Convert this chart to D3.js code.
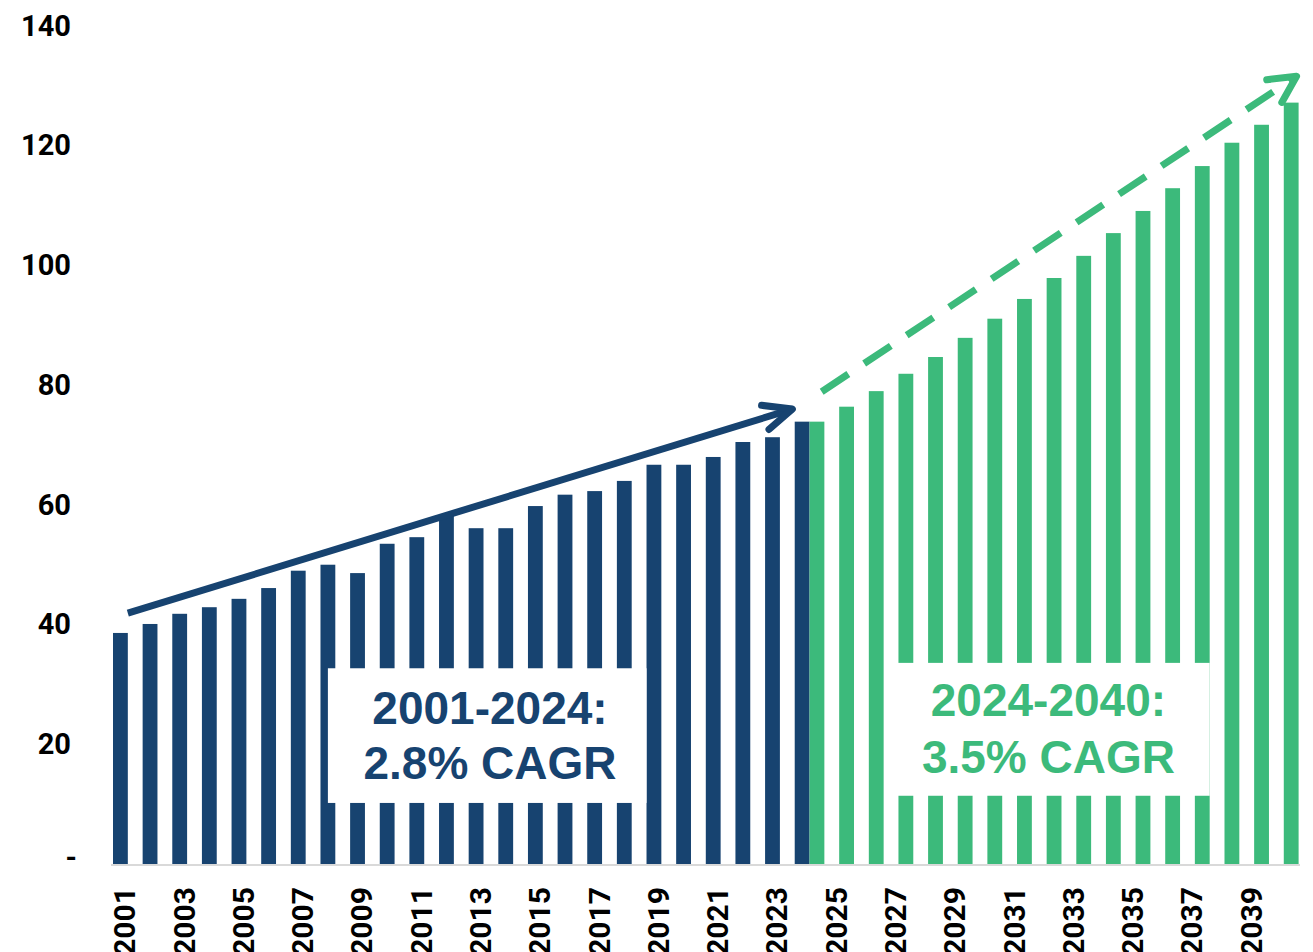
<!DOCTYPE html>
<html>
<head>
<meta charset="utf-8">
<script src="https://cdn.jsdelivr.net/npm/d3@7"></script>
<style>
  html, body { margin: 0; padding: 0; background: #ffffff; }
  svg { display: block; }
</style>
</head>
<body>
<svg id="chart" width="1313" height="952"></svg>
<script>
// ---------- DATA ----------
const years = [2001, 2002, 2003, 2004, 2005, 2006, 2007, 2008, 2009, 2010,
               2011, 2012, 2013, 2014, 2015, 2016, 2017, 2018, 2019, 2020,
               2021, 2022, 2023, 2024, 2025, 2026, 2027, 2028, 2029, 2030,
               2031, 2032, 2033, 2034, 2035, 2036, 2037, 2038, 2039, 2040];

const historicalYears = [2001, 2002, 2003, 2004, 2005, 2006, 2007, 2008, 2009, 2010,
                         2011, 2012, 2013, 2014, 2015, 2016, 2017, 2018, 2019, 2020,
                         2021, 2022, 2023, 2024];
const historicalValues = [38.6, 40.1, 41.8, 42.9, 44.3, 46.1, 49.0, 50.0, 48.6, 53.5,
                          54.6, 58.3, 56.1, 56.1, 59.8, 61.7, 62.3, 64.0, 66.7, 66.7,
                          68.0, 70.5, 71.3, 73.9];

const projectedYears = [2024, 2025, 2026, 2027, 2028, 2029, 2030, 2031, 2032, 2033,
                        2034, 2035, 2036, 2037, 2038, 2039, 2040];
const projectedValues = [73.9, 76.4, 79.0, 81.9, 84.7, 87.9, 91.1, 94.4, 97.9, 101.6,
                         105.4, 109.1, 112.9, 116.6, 120.5, 123.5, 127.2];

const yTickValues = [0, 20, 40, 60, 80, 100, 120, 140];
const xTickLabels = [2001, 2003, 2005, 2007, 2009, 2011, 2013, 2015, 2017, 2019,
                     2021, 2023, 2025, 2027, 2029, 2031, 2033, 2035, 2037, 2039];

const histLabelLines = ["2001-2024:", "2.8% CAGR"];
const projLabelLines = ["2024-2040:", "3.5% CAGR"];

// ---------- STYLE ----------
const BLUE = "#174370";
const GREEN = "#3cba7b";

const svg = d3.select("#chart");

const x = d3.scaleBand().domain(years).range([113, 1298.6]).paddingInner(0).paddingOuter(0);
const y = d3.scaleLinear().domain([0, 140]).range([864, 26]);
const bw = x.step() / 2;
// position in category space: year + fraction of a step
const xp = (yr, frac) => x(yr) + frac * x.step();

// ---------- BARS ----------
const hist = historicalYears.map((yr, i) => ({ yr, v: historicalValues[i] }));
const proj = projectedYears.map((yr, i) => ({ yr, v: projectedValues[i] }));

svg.append("g").selectAll("rect").data(hist).join("rect")
  .attr("x", d => x(d.yr))
  .attr("width", bw)
  .attr("y", d => y(d.v))
  .attr("height", d => y(0) - y(d.v))
  .attr("fill", BLUE);

svg.append("g").selectAll("rect").data(proj).join("rect")
  .attr("x", d => x(d.yr) + bw)
  .attr("width", bw)
  .attr("y", d => y(d.v))
  .attr("height", d => y(0) - y(d.v))
  .attr("fill", GREEN);

// baseline
svg.append("line")
  .attr("x1", 111).attr("x2", 1300)
  .attr("y1", y(0) + 1).attr("y2", y(0) + 1)
  .attr("stroke", "#d9d9d9").attr("stroke-width", 2);

// ---------- AXES ----------
const yAxis = d3.axisLeft(y).tickValues(yTickValues).tickSize(0).tickPadding(0)
  .tickFormat(d => d === 0 ? "-" : d);
const gy = svg.append("g").attr("transform", "translate(71,0)").call(yAxis);
gy.select(".domain").remove();
gy.selectAll("text")
  .attr("x", d => d === 0 ? 6 : 0)
  .attr("dy", d => d === 0 ? "0.1em" : "0.32em")
  .style("font-family", "Roboto, 'Liberation Sans', Arial, sans-serif")
  .style("font-weight", "700")
  .style("font-size", "29px")
  .style("fill", "#000");

const xAxis = d3.axisBottom(x).tickSize(0)
  .tickFormat(d => xTickLabels.includes(d) ? d : "");
const gx = svg.append("g").attr("transform", `translate(0,${y(0)})`).call(xAxis);
gx.select(".domain").remove();
gx.selectAll("text")
  .attr("transform", "rotate(-90)")
  .attr("x", -23)
  .attr("y", -3)
  .attr("dy", "0.35em")
  .style("text-anchor", "end")
  .style("font-family", "Roboto, 'Liberation Sans', Arial, sans-serif")
  .style("font-weight", "700")
  .style("font-size", "30px")
  .style("fill", "#000");

// ---------- ARROWS ----------
function arrowHead(g, tip, from, halfAngleDeg, len, color) {
  const ang = Math.atan2(from[1] - tip[1], from[0] - tip[0]);
  const a = halfAngleDeg * Math.PI / 180;
  const p1 = [tip[0] + len * Math.cos(ang - a), tip[1] + len * Math.sin(ang - a)];
  const p2 = [tip[0] + len * Math.cos(ang + a), tip[1] + len * Math.sin(ang + a)];
  g.append("path")
    .attr("d", d3.line()([p1, tip, p2]))
    .attr("fill", "none")
    .attr("stroke", color)
    .attr("stroke-width", 7)
    .attr("stroke-linecap", "round")
    .attr("stroke-linejoin", "round");
}

const arrows = svg.append("g");
// historical trend arrow
const bStart = [xp(2001, 0.5), y(41.9)];
const bEnd = [xp(2024, -0.08), y(76.0)];
arrows.append("path")
  .attr("d", d3.line()([bStart, bEnd]))
  .attr("stroke", BLUE).attr("stroke-width", 7).attr("fill", "none");
arrowHead(arrows, bEnd, bStart, 24, 31, BLUE);

// projected trend arrow (dashed)
const gStart = [xp(2024, 0.91), y(78.9)];
const gEnd = [xp(2040, 0.93), y(131.6)];
arrows.append("path")
  .attr("d", d3.line()([gStart, gEnd]))
  .attr("stroke", GREEN).attr("stroke-width", 7).attr("fill", "none")
  .attr("stroke-dasharray", "32,19");
arrowHead(arrows, gEnd, gStart, 27, 30, GREEN);

// ---------- LABEL BOXES ----------
function labelBox(x0, x1, vTop, vBot, cx, lineVals, lines, color) {
  const g = svg.append("g");
  g.append("rect")
    .attr("x", x0).attr("width", x1 - x0)
    .attr("y", y(vTop)).attr("height", y(vBot) - y(vTop))
    .attr("fill", "#ffffff");
  g.selectAll("text").data(lines).join("text")
    .attr("x", cx)
    .attr("y", (d, i) => y(lineVals[i]))
    .attr("dy", "0.358em")
    .attr("text-anchor", "middle")
    .style("font-family", "'Liberation Sans', Arial, sans-serif")
    .style("font-weight", "700")
    .style("font-size", "46px")
    .style("fill", color)
    .text(d => d);
}

labelBox(xp(2008, 0.25), xp(2019, 0.0), 32.7, 10.2, xp(2013, 0.72), [26.1, 16.9], histLabelLines, BLUE);
labelBox(xp(2027, 0.2), xp(2038, 0.0), 33.6, 11.4, xp(2032, 0.56), [27.4, 17.9], projLabelLines, GREEN);
</script>
</body>
</html>
